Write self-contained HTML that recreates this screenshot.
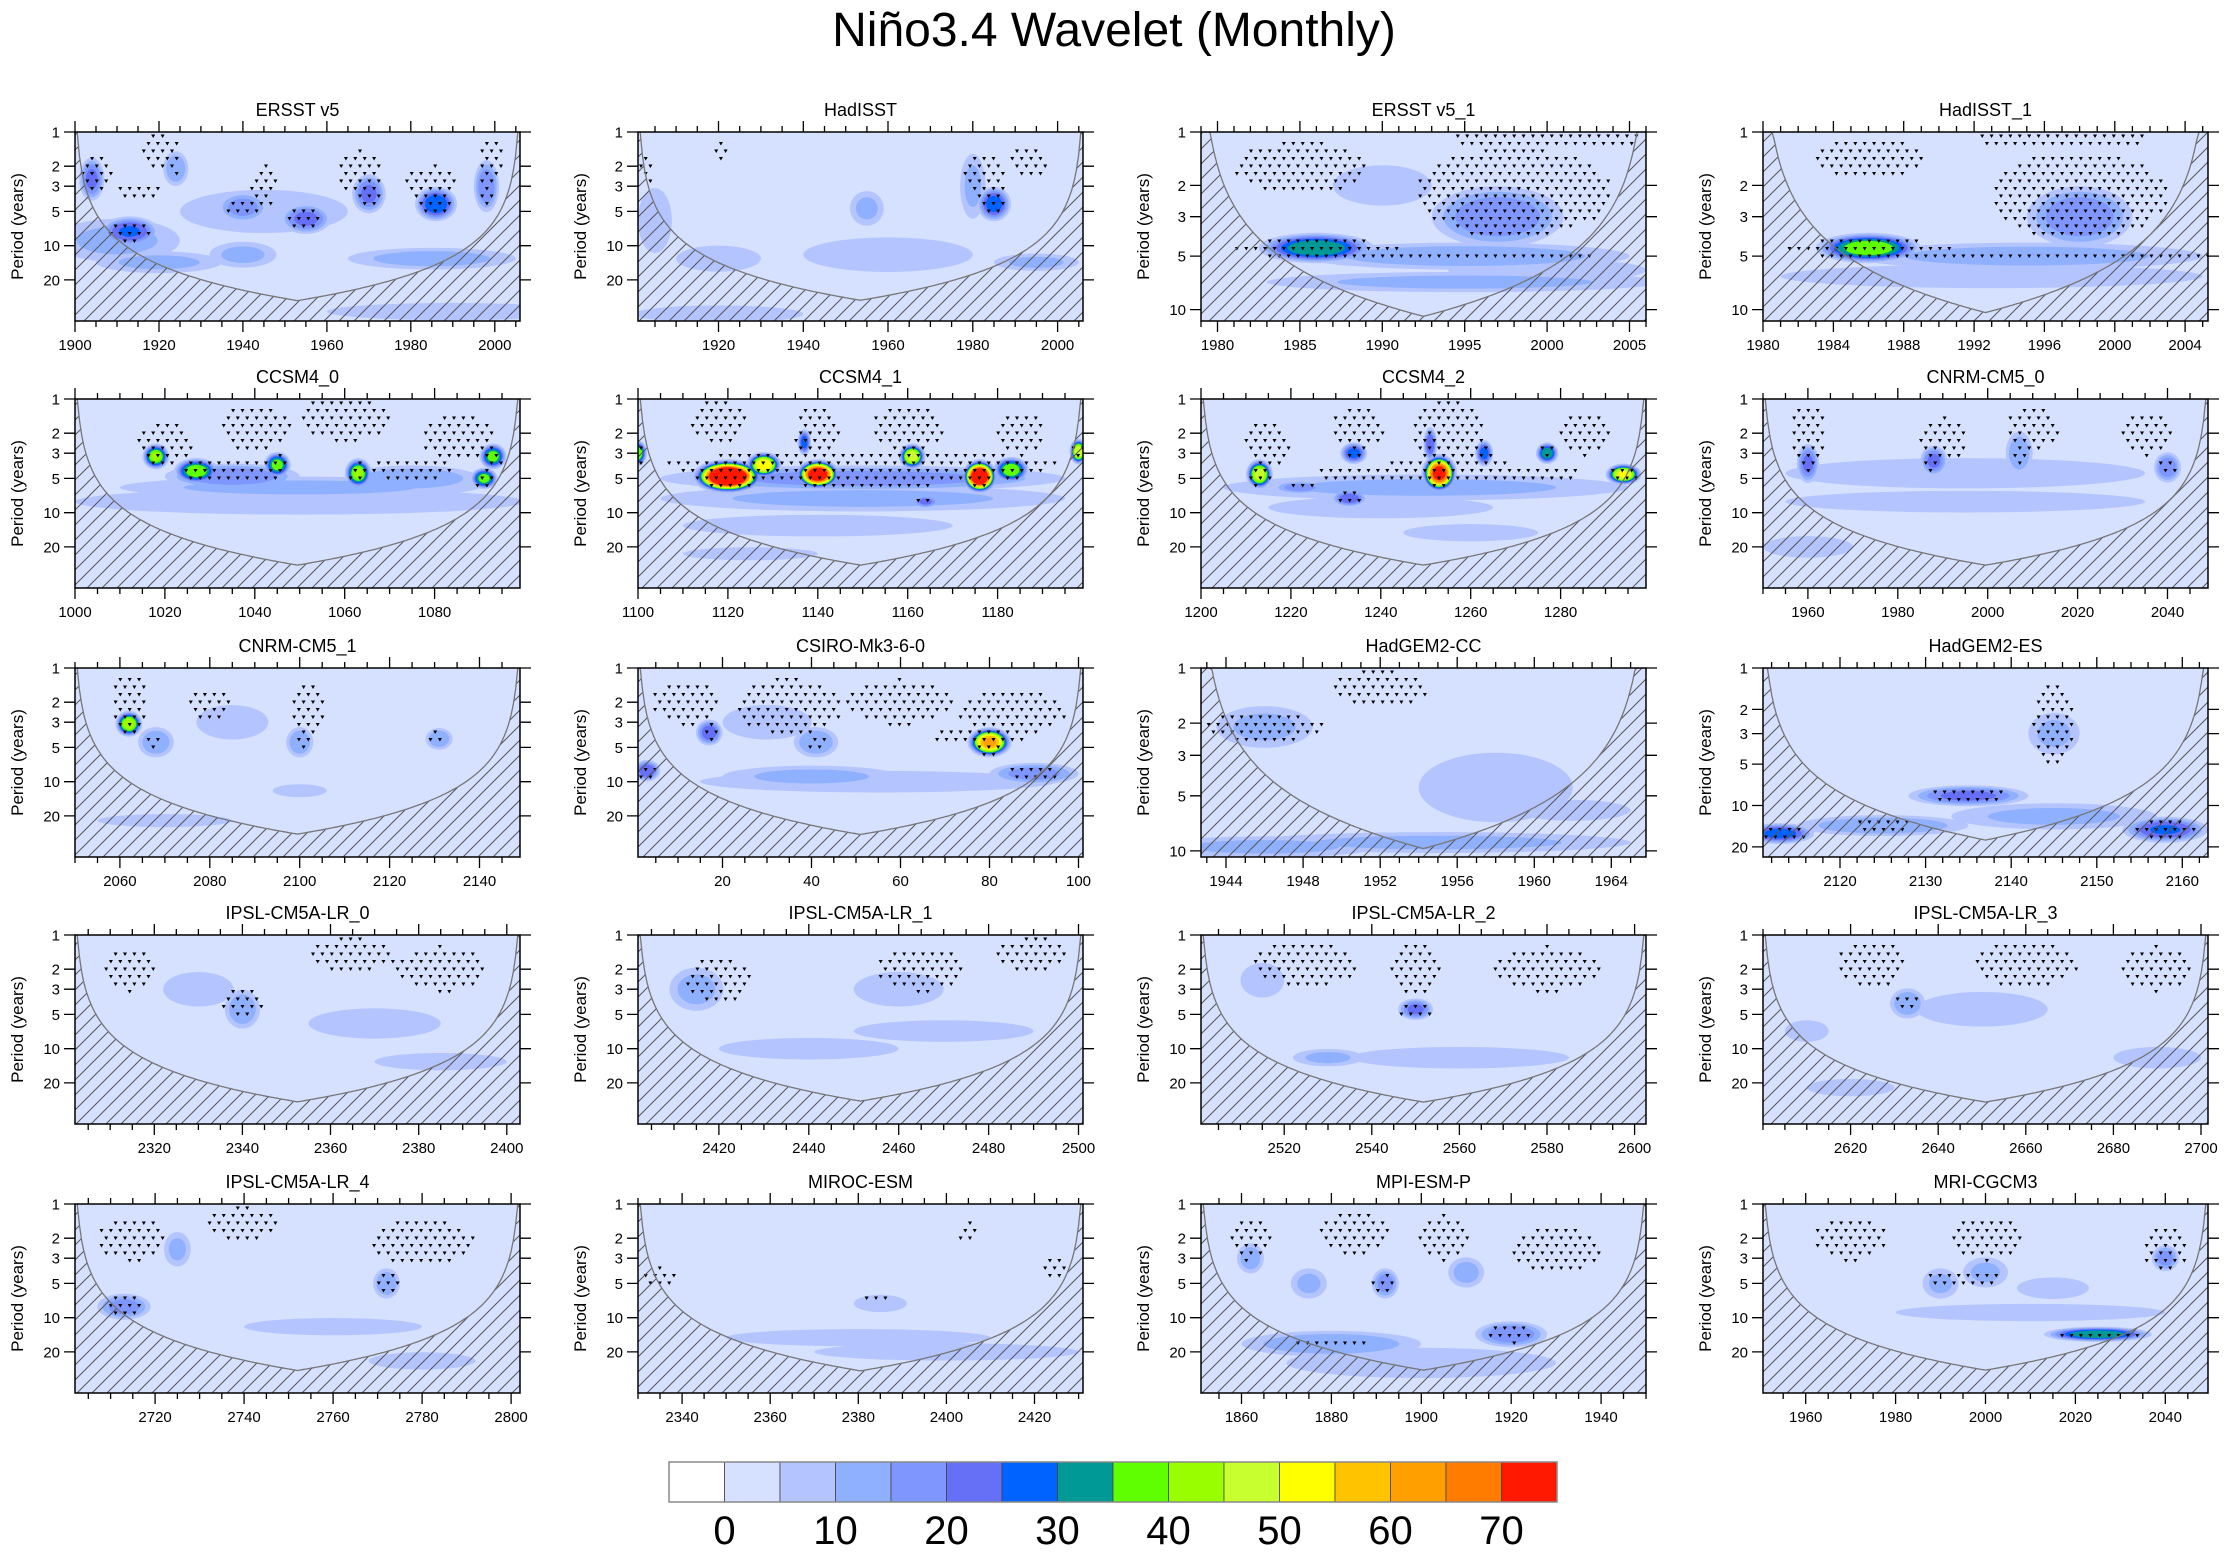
<!DOCTYPE html>
<html><head><meta charset="utf-8">
<style>
html,body{margin:0;padding:0;background:#fff;}
body{width:2228px;height:1553px;overflow:hidden;font-family:"Liberation Sans",sans-serif;}
svg text{font-family:"Liberation Sans",sans-serif;}
</style></head>
<body>
<svg id="chart" width="2228" height="1553" viewBox="0 0 2228 1553" xmlns="http://www.w3.org/2000/svg">
<defs>
<pattern id="hatch" patternUnits="userSpaceOnUse" width="15" height="15">
<path d="M0,15 L15,0 M-4,4 L4,-4 M11,19 L19,11" stroke="#555" stroke-width="1"/>
</pattern>
</defs>
<text x="1114" y="46" text-anchor="middle" font-size="48">Niño3.4 Wavelet (Monthly)</text>
</svg>
<script>
// ---------- data ----------
const panelTitles = ["ERSST v5","HadISST","ERSST v5_1","HadISST_1","CCSM4_0","CCSM4_1","CCSM4_2","CNRM-CM5_0","CNRM-CM5_1","CSIRO-Mk3-6-0","HadGEM2-CC","HadGEM2-ES","IPSL-CM5A-LR_0","IPSL-CM5A-LR_1","IPSL-CM5A-LR_2","IPSL-CM5A-LR_3","IPSL-CM5A-LR_4","MIROC-ESM","MPI-ESM-P","MRI-CGCM3"];
const xMins = [1900,1901,1979,1980,1000,1100,1200,1950,2050,1,1942.7,2111,2302,2402,2501,2600,2702,2330,1851,1950.5];
const xMaxs = [2006,2006,2006,2005.3,1099,1199,1299,2049,2149,101,1965.8,2163,2403,2501,2602.6,2701.6,2802,2431,1950,2049.5];
const yMaxs = [46,46,11.6,11.6,46,46,46,46,46,46,10.8,23.7,46,46,46,46,46,46,46,46];
const xTickLists = [
 [1900,1920,1940,1960,1980,2000],[1920,1940,1960,1980,2000],[1980,1985,1990,1995,2000,2005],[1980,1984,1988,1992,1996,2000,2004],
 [1000,1020,1040,1060,1080],[1100,1120,1140,1160,1180],[1200,1220,1240,1260,1280],[1960,1980,2000,2020,2040],
 [2060,2080,2100,2120,2140],[20,40,60,80,100],[1944,1948,1952,1956,1960,1964],[2120,2130,2140,2150,2160],
 [2320,2340,2360,2380,2400],[2420,2440,2460,2480,2500],[2520,2540,2560,2580,2600],[2620,2640,2660,2680,2700],
 [2720,2740,2760,2780,2800],[2340,2360,2380,2400,2420],[1860,1880,1900,1920,1940],[1960,1980,2000,2020,2040]];
const xMinorSteps = [5,5,1,1,5,5,5,5,5,5,1,2,5,5,5,5,5,5,5,5];
const yTickValues = [1,2,3,5,10,20];
const colorLevels = [0,5,10,15,20,25,30,35,40,45,50,55,60,65,70];
const colorBoxes = ["#ffffff","#d6e0ff","#b4c4ff","#8fb0ff","#7f96ff","#6570f6","#0063ff","#009996","#5ffe00","#99ff00","#c7ff2f","#ffff00","#ffc300","#ffa000","#ff7c00","#ff1900"];
const colorTickLabels = ["0","10","20","30","40","50","60","70"];
// blobs: [year, period, peak power, half-width (years), half-height (decades)]
const blobs = [
 [[1904,2.6,22,3,0.1],[1913,7.5,26,7,0.07],[1910,9,12,15,0.1],[1924,2.1,15,3,0.08],[1940,4.6,18,6,0.07],[1955,5.8,22,6,0.07],[1970,3.5,22,4,0.09],[1986,4.3,30,5,0.08],[1998,3,20,3,0.12],[1945,5,10,20,0.1],[1940,12,12,8,0.06],[1920,14,12,15,0.05],[1985,13,13,20,0.05],[1990,38,9,30,0.04]],
 [[1985,4.3,28,4,0.08],[1955,4.7,12,4,0.08],[1905,6,10,4,0.15],[1980,3,12,3,0.15],[1960,12,9,20,0.08],[1920,13,10,10,0.06],[1995,14,12,10,0.04],[1920,40,8,20,0.04]],
 [[1986,4.5,35,3.5,0.045],[1997,3,20,4,0.09],[1995,5,14,10,0.04],[2000,6,10,6,0.035],[1990,2,10,3,0.06],[1995,7,12,12,0.03]],
 [[1986,4.5,40,3,0.045],[1998,3,20,3,0.09],[1995,5,13,10,0.04],[1993,6.5,10,12,0.035]],
 [[1018,3.2,42,3,0.06],[1027,4.3,40,5,0.06],[1045,3.8,38,3,0.06],[1063,4.5,42,3,0.07],[1093,3.2,38,3,0.06],[1091,5,38,3,0.05],[1035,4.8,20,15,0.06],[1075,5,15,15,0.06],[1050,6,12,40,0.05],[1050,8,8,50,0.06]],
 [[1120,4.8,95,8,0.08],[1128,3.8,55,4,0.06],[1140,4.6,80,5,0.07],[1161,3.2,50,3,0.06],[1176,4.8,85,4,0.08],[1183,4.2,40,4,0.06],[1198,2.9,50,2,0.06],[1100,3,40,2,0.06],[1137,2.4,28,1.5,0.06],[1150,5,18,45,0.06],[1150,7.5,12,45,0.06],[1164,8,22,3,0.03],[1140,13,8,30,0.05],[1125,23,8,15,0.03]],
 [[1213,4.6,48,3,0.07],[1234,3,28,3,0.05],[1253,4.5,75,4,0.09],[1251,2.5,25,1.5,0.08],[1263,3,28,2,0.06],[1277,3,35,2.5,0.05],[1294,4.6,52,4,0.05],[1233,7.5,24,4,0.04],[1222,6,18,6,0.03],[1250,6,12,45,0.06],[1240,9,9,25,0.05],[1260,15,8,15,0.04]],
 [[1960,3.7,22,2.5,0.09],[1988,3.5,22,3,0.07],[2007,3,15,3,0.1],[2040,4,20,3,0.07],[1995,4.5,10,40,0.07],[1995,8,8,40,0.05],[1960,20,8,10,0.05]],
 [[2062,3.1,45,3,0.06],[2068,4.5,15,4,0.07],[2100,4.5,15,3,0.07],[2131,4.2,15,3,0.05],[2085,3,10,8,0.08],[2100,12,8,6,0.03],[2070,22,8,15,0.03]],
 [[80,4.5,62,5,0.07],[17,3.7,24,3,0.06],[41,4.5,15,5,0.07],[3,8,25,3,0.05],[90,8.5,18,10,0.05],[40,9,12,20,0.05],[55,10,10,40,0.05],[30,3,10,10,0.08]],
 [[1946,2.1,12,2.5,0.06],[1958,4.5,8,4,0.1],[1955,9,12,10,0.03],[1946,9.5,12,6,0.03],[1962,6,9,3,0.03]],
 [[2135,8.5,22,7,0.04],[2113,16,28,4,0.04],[2158,15,26,5,0.05],[2145,12,12,12,0.05],[2145,3,12,3,0.08],[2125,14,15,10,0.04]],
 [[2340,4.5,15,4,0.09],[2370,6,8,15,0.07],[2385,13,10,15,0.04],[2330,3,8,8,0.08]],
 [[2415,3,13,6,0.1],[2460,3,10,10,0.08],[2470,7,10,20,0.05],[2440,10,8,20,0.05]],
 [[2550,4.5,22,4,0.05],[2530,12,12,8,0.04],[2560,12,8,25,0.05],[2515,2.5,10,5,0.08]],
 [[2633,4,15,4,0.07],[2650,4.5,8,15,0.08],[2690,12,8,10,0.05],[2610,7,10,5,0.05],[2620,22,8,10,0.04]],
 [[2713,8,18,6,0.06],[2772,5,15,3,0.07],[2725,2.5,12,3,0.08],[2780,24,8,12,0.04],[2760,12,7,20,0.04]],
 [[2385,7.5,10,6,0.04],[2380,15,8,30,0.04],[2400,20,7,30,0.04]],
 [[1862,3,14,3,0.07],[1875,5,12,4,0.07],[1892,5,18,3,0.07],[1910,4,13,4,0.07],[1920,14,20,8,0.06],[1880,17,15,20,0.06],[1900,25,10,30,0.07]],
 [[2025,14,35,12,0.035],[2040,3,18,3,0.06],[2000,4,12,5,0.07],[1990,5,12,4,0.07],[2015,5.5,10,8,0.05],[2010,9,8,30,0.04]]
];
// significance regions: [year, period, half-width (years), half-height (decades)]
const sigRegions = [
 [[1905,2.3,4,0.15],[1920,1.5,5,0.15],[1945,3,3,0.2],[1968,2.3,5,0.2],[1985,2.8,6,0.15],[1999,1.8,3,0.2],[1915,3.3,5,0.08]],
 [[1983,2.5,5,0.2],[1993,1.8,5,0.15],[1903,2,2,0.15],[1920,1.5,2,0.1]],
 [[1985,1.6,4,0.15],[1998,2.2,6,0.25],[1993,5,10,0.04],[1986,4.5,5,0.05],[2000,1.1,6,0.05]],
 [[1986,1.4,3,0.12],[1998,2.3,5,0.25],[1986,4.5,5,0.05],[1997,1.1,5,0.05],[1995,5,12,0.03]],
 [[1020,2.5,6,0.2],[1040,1.8,8,0.2],[1060,1.5,10,0.2],[1085,2.2,8,0.2],[1035,4,12,0.1],[1075,4,10,0.08]],
 [[1118,1.6,6,0.2],[1140,2,5,0.25],[1160,1.8,8,0.2],[1185,2,5,0.2],[1150,3.8,45,0.12]],
 [[1215,2.5,5,0.2],[1235,1.8,6,0.2],[1255,2,8,0.3],[1285,2,6,0.2],[1255,4.5,30,0.1]],
 [[1960,2,4,0.25],[1990,2.3,5,0.2],[2010,1.8,6,0.2],[2035,2,6,0.2]],
 [[2062,2,4,0.25],[2080,2.2,5,0.15],[2102,2.5,4,0.25],[2130,4,2,0.08]],
 [[12,2,8,0.2],[35,2.2,12,0.25],[60,2,12,0.2],[85,2.5,12,0.2],[78,4,12,0.08],[4,8,3,0.05]],
 [[1946,2.1,3,0.08],[1952,1.3,2.5,0.1]],
 [[2145,2.6,2.5,0.3],[2135,8.5,4,0.03],[2158,15,3,0.03]],
 [[2315,2,6,0.2],[2340,4,5,0.12],[2365,1.5,10,0.15],[2385,2,10,0.2]],
 [[2420,2.5,7,0.2],[2465,2,10,0.2],[2490,1.5,8,0.15]],
 [[2525,1.8,12,0.2],[2550,2,6,0.25],[2580,2,12,0.2],[2550,4.8,4,0.05]],
 [[2625,1.8,8,0.2],[2660,1.8,12,0.2],[2690,2,8,0.2],[2633,4,3,0.08]],
 [[2715,2,8,0.2],[2740,1.5,8,0.15],[2780,2.2,12,0.2],[2772,5,3,0.1],[2713,7,4,0.08]],
 [[2335,4.5,4,0.1],[2405,1.8,2,0.1],[2385,7,4,0.03],[2425,3.5,3,0.1]],
 [[1862,2,5,0.2],[1885,1.8,8,0.2],[1905,2,6,0.2],[1930,2.5,10,0.2],[1892,5,3,0.08]],
 [[1970,2,8,0.2],[2000,2,8,0.2],[2040,2.5,5,0.2],[1995,4.5,8,0.08]]
];
const coiA = 1.55, coiB = 0.75;
const blobHeightScale = 1.9;
const profileExp = 0.28;
// ---------- layout ----------
const colLeft=[75,638,1201,1763], rowTop=[132,399,668,935,1204], PW=445, PH=189;
const NS="http://www.w3.org/2000/svg";
const svg=document.getElementById('chart');
function mk(tag,attrs,parent){const e=document.createElementNS(NS,tag);for(const k in attrs)e.setAttribute(k,attrs[k]);(parent||svg).appendChild(e);return e;}

panelTitles.forEach((title,i)=>{
  const L=colLeft[i%4], T=rowTop[Math.floor(i/4)];
  const x0=xMins[i], x1=xMaxs[i], ym=yMaxs[i];
  const dec=Math.log10(ym);
  const xs=t=>L+(t-x0)/(x1-x0)*PW;
  const ys=p=>T+PH*Math.log10(p)/dec;
  const g=mk('g',{});
  
  
  const cp=mk('clipPath',{id:'clip'+i},g); mk('rect',{x:L,y:T,width:PW,height:PH},cp);
  const plot=mk('g',{'clip-path':'url(#clip'+i+')'},g);
  const bg=mk('rect',{x:L,y:T,width:PW,height:PH,fill:colorBoxes[1]},plot);
  
  
  const B=blobs[i];
  for(let li=1;li<colorLevels.length;li++){
    const lev=colorLevels[li];
    B.forEach(b=>{
      const [t,p,v,wx,wy]=b;
      if(v<=lev) return;
      const r=Math.pow(Math.log(v/lev)/Math.log(v/5),profileExp);
      const rx=wx*r/(x1-x0)*PW, ry=wy*blobHeightScale*r*PH/dec;
      const e=mk('ellipse',{cx:xs(t),cy:ys(p),rx:rx,ry:ry,fill:colorBoxes[li+1]},plot);
      
      
    });
  }
  const field=(t,p)=>{let m=0;B.forEach(b=>{const [bt,bp,v,wx,wy]=b;const dx=(t-bt)/wx, dy=(Math.log10(p)-Math.log10(bp))/(wy*blobHeightScale);const d2=dx*dx+dy*dy;if(d2>1)return;const val=v*Math.exp(-Math.pow(d2,0.5/profileExp)*Math.log(v/5));if(val>m)m=val;});return m;};
  const inSig=(t,p)=>sigRegions[i].some(s=>{const dx=(t-s[0])/s[2], dy=(Math.log10(p)-Math.log10(s[1]))/s[3];return dx*dx+dy*dy<=1;});
  let dots='', row=0;
  for(let py=T+4;py<T+PH;py+=7.5,row++){
    const p=Math.pow(ym,(py-T)/PH);
    for(let px=L+3+(row%2)*4.7;px<L+PW;px+=9.4){
      const t=x0+(px-L)/PW*(x1-x0);
      if(field(t,p)>=14 || inSig(t,p)) dots+='M'+(px-1.5).toFixed(1)+','+(py-1.2).toFixed(1)+'h3l-1.5,2.6z';
    }
  }
  const dp=mk('path',{d:dots,fill:'#000',stroke:'#000','stroke-width':0.6},plot);
  
  
  let pts=[];
  for(let k=0;k<=200;k++){
    const t=x0+(x1-x0)*k/200;
    const dt=Math.min(t-x0,x1-t);
    let p=coiA*Math.pow(Math.max(dt,1e-4),coiB);
    const y=Math.max(T,Math.min(T+PH+5,ys(p)));
    pts.push(xs(t).toFixed(1)+','+y.toFixed(1));
  }
  const poly=mk('polygon',{points:(L)+','+(T+PH+5)+' '+pts.join(' ')+' '+(L+PW)+','+(T+PH+5),fill:'url(#hatch)'},plot);
  
  
  const cl=mk('polyline',{points:pts.join(' '),fill:'none',stroke:'#777','stroke-width':1.3},plot);
  
  
  mk('rect',{x:L,y:T,width:PW,height:PH,fill:'none',stroke:'#000','stroke-width':1.5},g);
  let tk='';
  const f=Math.ceil(x0/xMinorSteps[i])*xMinorSteps[i];
  for(let t=f;t<=x1+1e-6;t+=xMinorSteps[i]){const x=xs(t).toFixed(1);tk+='M'+x+','+(T+PH)+'v6M'+x+','+T+'v-6';}
  xTickLists[i].forEach(t=>{const x=xs(t).toFixed(1);tk+='M'+x+','+(T+PH)+'v11M'+x+','+T+'v-11';
    const lb=mk('text',{x:x,y:T+PH+29,'text-anchor':'middle','font-size':15},g);lb.textContent=String(t);
    
    });
  yTickValues.forEach(p=>{if(p>ym)return;const y=ys(p).toFixed(1);tk+='M'+L+','+y+'h-11M'+(L+PW)+','+y+'h11';
    const lb=mk('text',{x:L-15,y:+y+5.5,'text-anchor':'end','font-size':15},g);lb.textContent=String(p);
    
    });
  mk('path',{d:tk,stroke:'#000','stroke-width':1.3,fill:'none'},g);
  const tt=mk('text',{x:L+PW/2,y:T-16,'text-anchor':'middle','font-size':18},g);tt.textContent=title;
  
  
  const yt=mk('text',{x:0,y:0,'text-anchor':'middle','font-size':17,transform:'translate('+(L-52)+','+(T+PH/2)+') rotate(-90)'},g);yt.textContent='Period (years)';
  
  
});
const cb=mk('g',{});


const cbL=669,cbR=1557,cbT=1462,cbH=40,bw=(cbR-cbL)/colorBoxes.length;
colorBoxes.forEach((c,k)=>{const r=mk('rect',{x:cbL+k*bw,y:cbT,width:bw,height:cbH,fill:c,stroke:'#444','stroke-width':0.8},cb);
  
  });
mk('rect',{x:cbL,y:cbT,width:cbR-cbL,height:cbH,fill:'none',stroke:'#888','stroke-width':1.5},cb);
colorTickLabels.forEach((s,k)=>{const t=mk('text',{x:cbL+bw*(1+2*k),y:1544,'text-anchor':'middle','font-size':40},cb);t.textContent=s;
  
  });
</script>
</body></html>
